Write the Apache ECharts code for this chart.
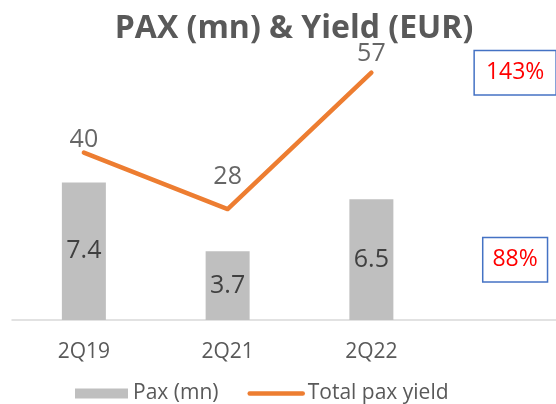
<!DOCTYPE html>
<html>
<head>
<meta charset="utf-8">
<script src="https://cdn.jsdelivr.net/npm/echarts@6/dist/echarts.min.js"></script>
<style>
    html, body { margin: 0; padding: 0; background: #fff; }
    #main { width: 556px; height: 404px; }
</style>
</head>
<body>
<div id="main"></div>
<script>
// quarters (last slot is empty, holds the recovery boxes)
var quarters = ['2Q19', '2Q21', '2Q22', ''];
var paxMn = [7.4, 3.7, 6.5];
var paxYield = [40, 28, 57];
// 2Q22 vs 2Q19: yield, pax
var recovery = ['143%', '88%'];

var FONT = 'Open Sans';
var chart = echarts.init(document.getElementById('main'));

// line labels sit at different heights above the points in the original
var yieldLabelGap = [0, 20, 6];

var boxLabel = function (pad) {
    return {
        show: true,
        position: 'inside',
        color: '#FF0000',
        fontSize: 23,
        fontFamily: FONT,
        borderColor: '#4472C4',
        borderWidth: 1.5,
        backgroundColor: '#fff',
        padding: pad
    };
};

chart.setOption({
    animation: false,
    title: {
        text: 'PAX (mn) & Yield (EUR)',
        left: 289,
        top: 8,
        textAlign: 'center',
        textStyle: { color: '#595959', fontSize: 32, fontWeight: 'bold', fontFamily: FONT }
    },
    legend: {
        left: 70,
        top: 378,
        itemWidth: 53,
        itemHeight: 10,
        itemGap: 29,
        textStyle: { color: '#595959', fontSize: 21, fontFamily: FONT },
        data: [
            { name: 'Pax (mn)', icon: 'rect' },
            {
                name: 'Total pax yield',
                itemStyle: { opacity: 0 },
                lineStyle: { width: 4.5, cap: 'round', color: '#ED7D31' }
            }
        ]
    },
    grid: { left: 12, right: -31, top: 60, bottom: 84, outerBoundsMode: 'none' },
    xAxis: {
        type: 'category',
        data: quarters,
        axisLine: { lineStyle: { color: '#D9D9D9', width: 1.5 } },
        axisTick: { show: false },
        axisLabel: { color: '#595959', fontSize: 21, fontFamily: FONT, margin: 22 }
    },
    yAxis: [
        { type: 'value', min: 0, max: 14, show: false, splitLine: { show: false } },
        { type: 'value', min: 4.4, max: 59.7, show: false, splitLine: { show: false } }
    ],
    series: [
        {
            name: 'Pax (mn)',
            type: 'bar',
            barWidth: 44,
            data: paxMn,
            itemStyle: { color: '#BFBFBF' },
            label: { show: true, position: 'inside', color: '#404040', fontSize: 25, fontFamily: FONT },
            markPoint: {
                symbol: 'circle',
                symbolSize: 1,
                itemStyle: { color: 'rgba(0,0,0,0)' },
                data: [{ coord: [3, paxMn[2] / 2], value: recovery[1], label: boxLabel([10, 9]) }]
            }
        },
        {
            name: 'Total pax yield',
            type: 'line',
            yAxisIndex: 1,
            symbol: 'none',
            data: paxYield,
            lineStyle: { color: '#ED7D31', width: 4.5, cap: 'round', join: 'round' },
            itemStyle: { color: '#ED7D31' },
            markPoint: {
                symbol: 'circle',
                symbolSize: 1,
                itemStyle: { color: 'rgba(0,0,0,0)' },
                data: [{ coord: [3, paxYield[2]], value: recovery[0], label: boxLabel([10, 11]) }]
            }
        },
        {
            // value labels for the yield line
            name: 'yieldLabels',
            type: 'scatter',
            yAxisIndex: 1,
            symbolSize: 0,
            silent: true,
            data: paxYield.map(function (v, i) {
                return { value: v, label: { distance: yieldLabelGap[i] } };
            }),
            label: { show: true, position: 'top', color: '#404040', fontSize: 25, fontFamily: FONT }
        }
    ]
});
</script>
</body>
</html>
